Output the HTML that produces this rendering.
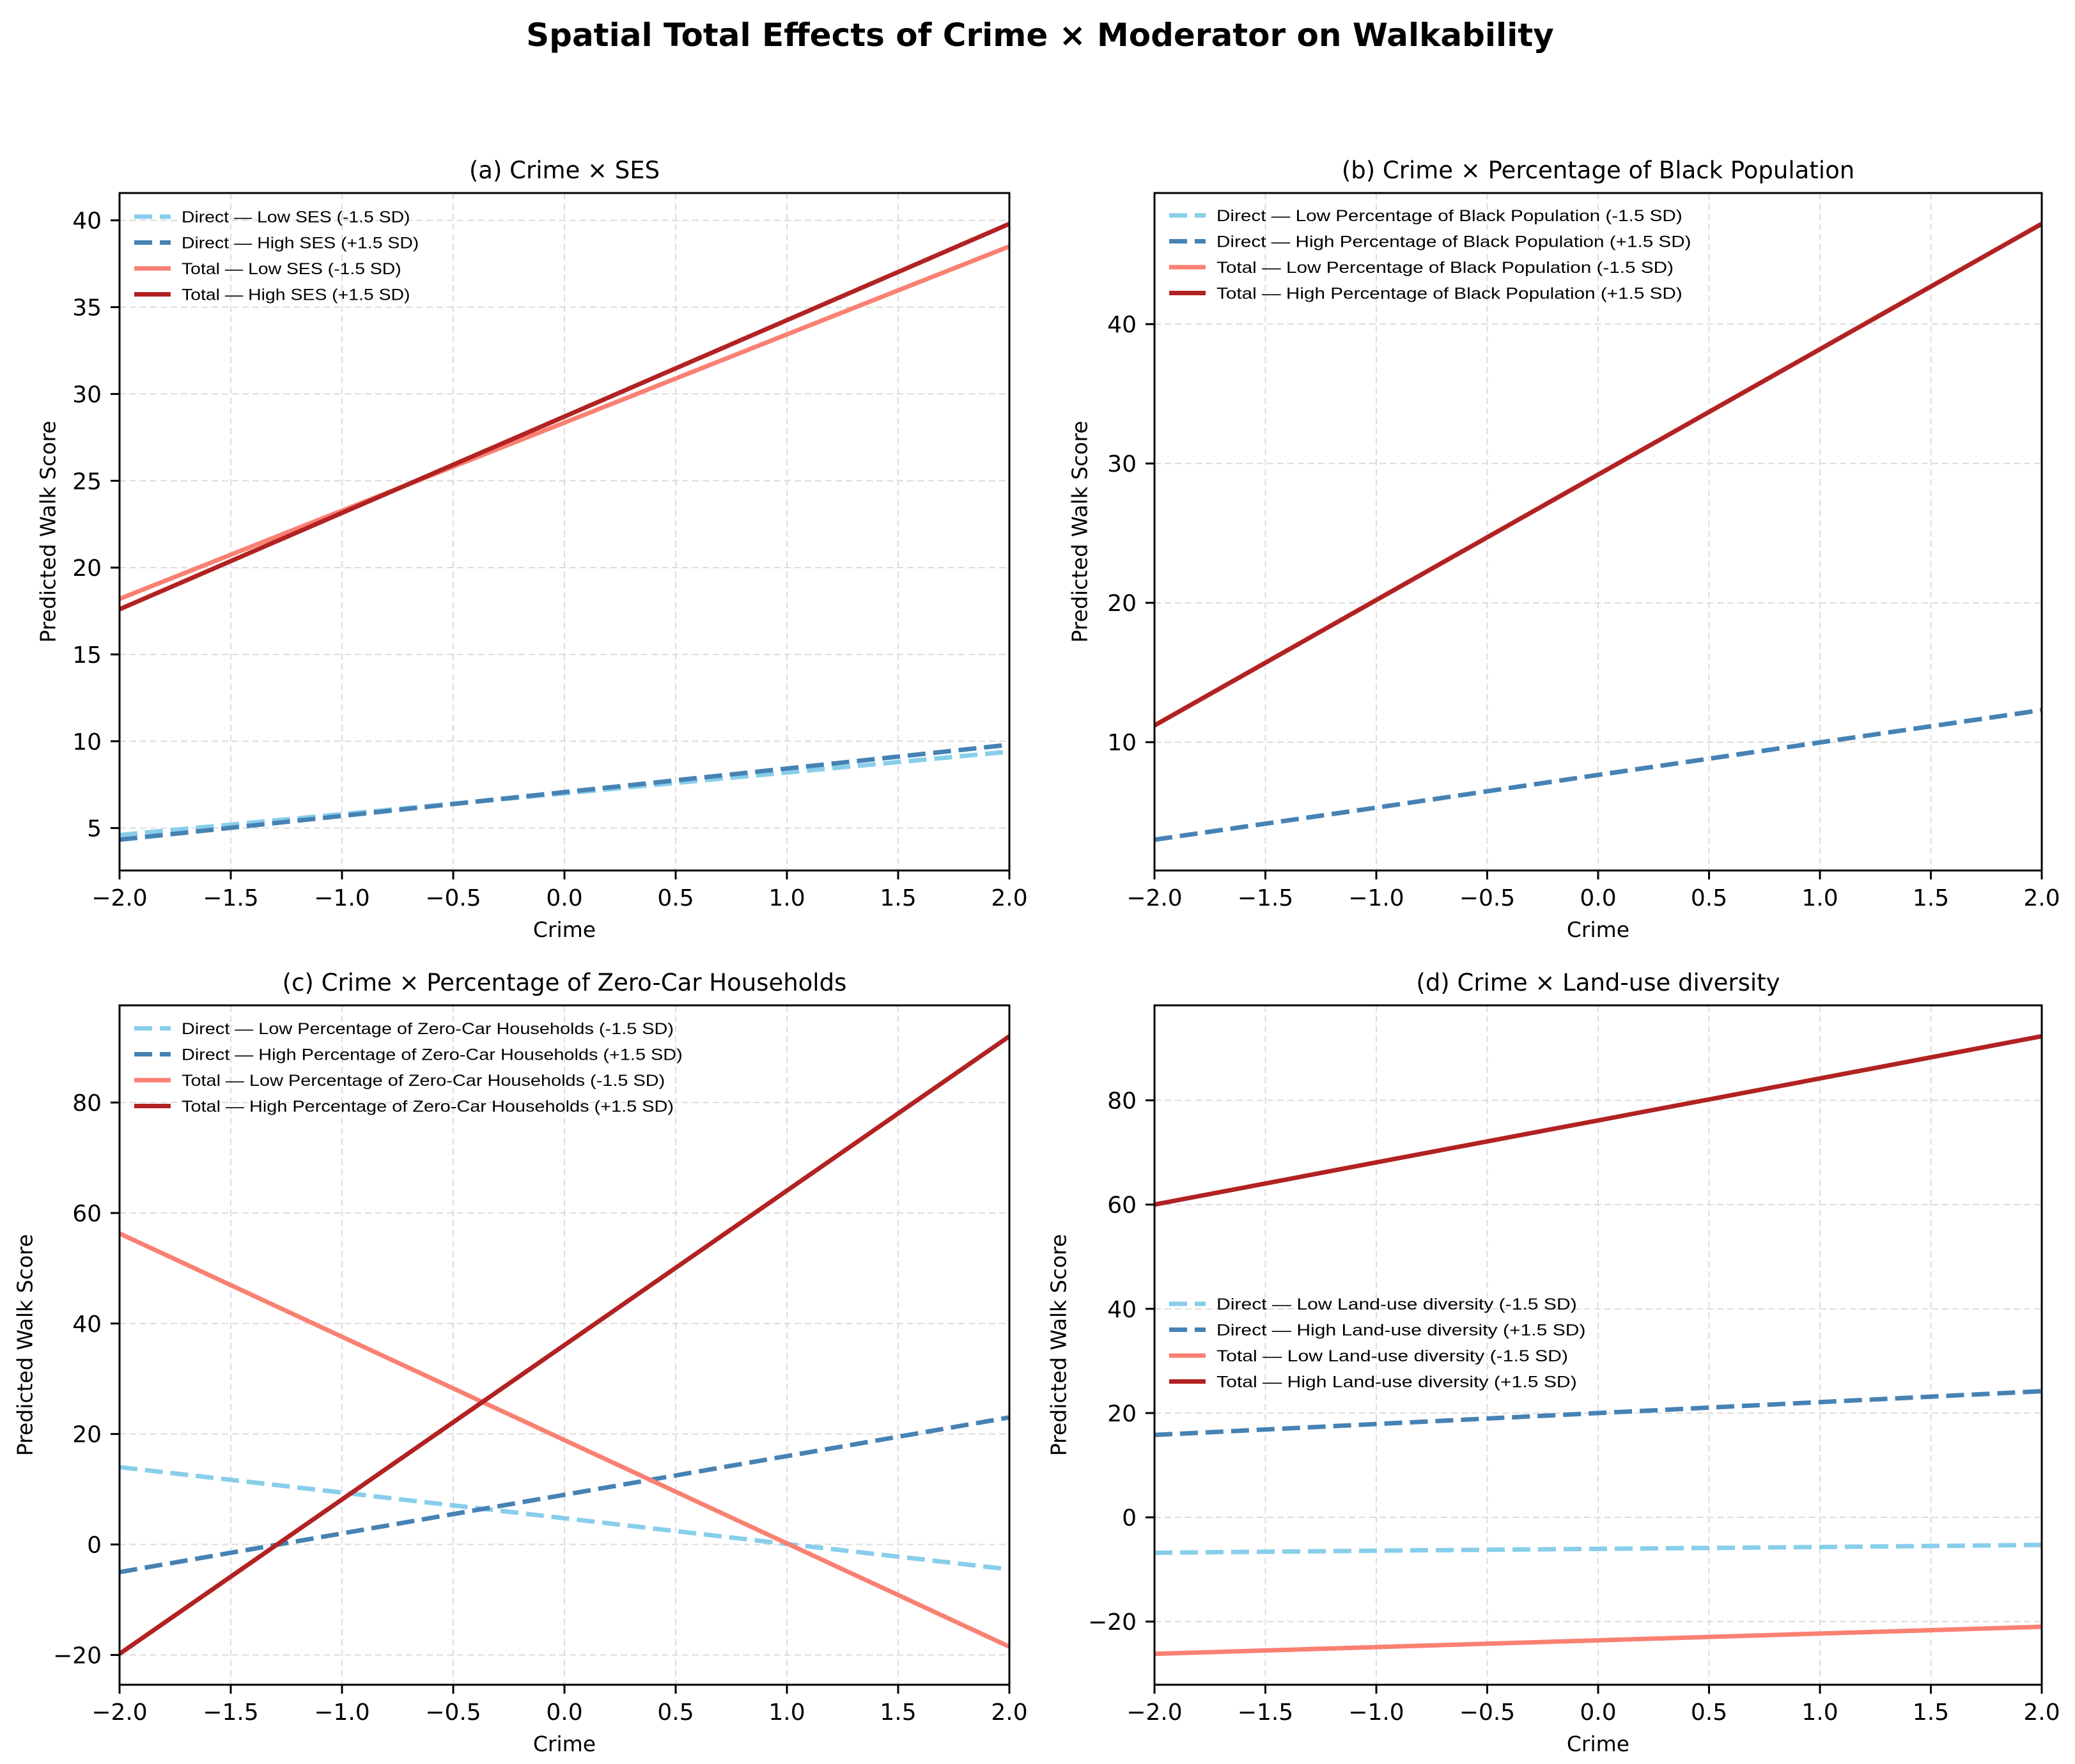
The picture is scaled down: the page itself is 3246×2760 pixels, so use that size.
<!DOCTYPE html>
<html><head><meta charset="utf-8"><style>
html,body{margin:0;padding:0;background:#fff}
svg{display:block;font-family:"DejaVu Sans","Liberation Sans",sans-serif}
</style></head><body>
<svg id="fig" width="3246" height="2760" viewBox="0 0 3246 2760" xmlns="http://www.w3.org/2000/svg">
<text x="1627" y="72" text-anchor="middle" font-size="50" font-weight="bold">Spatial Total Effects of Crime × Moderator on Walkability</text>
</svg>
<script>
const xs = [-2, -1, 0, 1, 2];
const xTicks = [-2.0, -1.5, -1.0, -0.5, 0.0, 0.5, 1.0, 1.5, 2.0];
// (a)
const aDirectLow = [4.6, 5.8, 7.0, 8.2, 9.4];
const aDirectHigh = [4.33, 5.7, 7.07, 8.43, 9.8];
const aTotalLow = [18.2, 23.28, 28.35, 33.43, 38.5];
const aTotalHigh = [17.6, 23.15, 28.7, 34.25, 39.8];
const aYTicks = [5, 10, 15, 20, 25, 30, 35, 40];
// (b)
const bDirectLow = [3.0, 5.3, 7.65, 9.98, 12.3];
const bDirectHigh = [3.0, 5.3, 7.65, 9.98, 12.3];
const bTotalLow = [11.2, 20.2, 29.2, 38.2, 47.2];
const bTotalHigh = [11.2, 20.2, 29.2, 38.2, 47.2];
const bYTicks = [10, 20, 30, 40];
// (c)
const cDirectLow = [14, 9.4, 4.75, 0.1, -4.5];
const cDirectHigh = [-5, 2, 9, 16, 23];
const cTotalLow = [56.3, 37.6, 18.9, 0.2, -18.5];
const cTotalHigh = [-19.8, 8.15, 36.1, 64.05, 92];
const cYTicks = [-20, 0, 20, 40, 60, 80];
// (d)
const dDirectLow = [-6.8, -6.4, -6.05, -5.7, -5.3];
const dDirectHigh = [15.8, 17.9, 20, 22.1, 24.2];
const dTotalLow = [-26.2, -24.9, -23.6, -22.3, -21];
const dTotalHigh = [60, 68.1, 76.15, 84.2, 92.3];
const dYTicks = [-20, 0, 20, 40, 60, 80];

const NS = "http://www.w3.org/2000/svg";
const fig = document.getElementById('fig');
function mk(tag, attrs, parent){
  const e = document.createElementNS(NS, tag);
  for (const k in attrs) e.setAttribute(k, attrs[k]);
  (parent||fig).appendChild(e);
  return e;
}
function fmt(v){ const s = v.toFixed(1); return s.replace('-', '\u2212'); }
function fmtInt(v){ return String(v).replace('-', '\u2212'); }

const styles = [
  {color:'#87CEEB', dash:'28,12', w:7},
  {color:'#4682B4', dash:'28,12', w:7},
  {color:'#FA8072', dash:null, w:7},
  {color:'#B22222', dash:null, w:7}
];

const panels = [
  {id:'a', title:'(a) Crime × SES', mod:'SES', L:187, R:1579, T:302, B:1362, ylx:77,
   series:[aDirectLow,aDirectHigh,aTotalLow,aTotalHigh], ticks:aYTicks, legY:339},
  {id:'b', title:'(b) Crime × Percentage of Black Population', mod:'Percentage of Black Population', L:1806, R:3194, T:302, B:1362, ylx:1691,
   series:[bDirectLow,bDirectHigh,bTotalLow,bTotalHigh], ticks:bYTicks, legY:337},
  {id:'c', title:'(c) Crime × Percentage of Zero-Car Households', mod:'Percentage of Zero-Car Households', L:187, R:1579, T:1573, B:2636, ylx:41,
   series:[cDirectLow,cDirectHigh,cTotalLow,cTotalHigh], ticks:cYTicks, legY:1609},
  {id:'d', title:'(d) Crime × Land-use diversity', mod:'Land-use diversity', L:1806, R:3194, T:1573, B:2636, ylx:1658,
   series:[dDirectLow,dDirectHigh,dTotalLow,dTotalHigh], ticks:dYTicks, legY:2040}
];

panels.forEach(p => {
  const g = mk('g', {});
  
  
  let mn = Infinity, mx = -Infinity;
  p.series.forEach(s => s.forEach(v => { mn = Math.min(mn, v); mx = Math.max(mx, v); }));
  const pad = (mx - mn) * 0.05; const y0 = mn - pad, y1 = mx + pad;
  const X = v => p.L + (v + 2) / 4 * (p.R - p.L);
  const Y = v => p.B - (v - y0) / (y1 - y0) * (p.B - p.T);
  xTicks.forEach(t => {
    const l = mk('line', {x1:X(t), x2:X(t), y1:p.T, y2:p.B, stroke:'#dcdcdc', 'stroke-width':2, 'stroke-dasharray':'10,6'}, g);
    
    
  });
  p.ticks.forEach(t => {
    const l = mk('line', {x1:p.L, x2:p.R, y1:Y(t), y2:Y(t), stroke:'#dcdcdc', 'stroke-width':2, 'stroke-dasharray':'10,6'}, g);
    
    
  });
  const cp = mk('clipPath', {id:'clip-' + p.id}, g);
  mk('rect', {x:p.L, y:p.T, width:p.R - p.L, height:p.B - p.T}, cp);
  const names = ['direct-low', 'direct-high', 'total-low', 'total-high'];
  p.series.forEach((s, i) => {
    const st = styles[i];
    const pts = s.map((v, j) => X(xs[j]) + ',' + Y(v)).join(' ');
    const pl = mk('polyline', {points:pts, fill:'none', stroke:st.color, 'stroke-width':st.w, 'clip-path':'url(#clip-' + p.id + ')'}, g);
    if (st.dash) pl.setAttribute('stroke-dasharray', st.dash);
    
    
  });
  const fr = mk('rect', {x:p.L, y:p.T, width:p.R - p.L, height:p.B - p.T, fill:'none', stroke:'#000', 'stroke-width':3}, g);
  
  
  xTicks.forEach(t => {
    mk('line', {x1:X(t), x2:X(t), y1:p.B, y2:p.B + 14, stroke:'#000', 'stroke-width':3}, g);
    const tx = mk('text', {x:X(t), y:p.B + 55, 'text-anchor':'middle', 'font-size':36}, g);
    tx.textContent = fmt(t);
    
    
  });
  p.ticks.forEach(t => {
    mk('line', {x1:p.L - 14, x2:p.L, y1:Y(t), y2:Y(t), stroke:'#000', 'stroke-width':3}, g);
    const tx = mk('text', {x:p.L - 28, y:Y(t) + 13, 'text-anchor':'end', 'font-size':36}, g);
    tx.textContent = fmtInt(t);
    
    
  });
  const ti = mk('text', {x:(p.L + p.R) / 2, y:p.T - 23, 'text-anchor':'middle', 'font-size':37}, g);
  ti.textContent = p.title;
  
  
  const xl = mk('text', {x:(p.L + p.R) / 2, y:p.B + 104, 'text-anchor':'middle', 'font-size':33}, g);
  xl.textContent = 'Crime';
  
  
  const yc = (p.T + p.B) / 2;
  const yl = mk('text', {x:p.ylx, y:yc, 'text-anchor':'middle', 'font-size':33, transform:'rotate(-90 ' + p.ylx + ' ' + yc + ')', 'dominant-baseline':'middle'}, g);
  yl.textContent = 'Predicted Walk Score';
  
  
  const labels = [
    'Direct — Low ' + p.mod + ' (-1.5 SD)',
    'Direct — High ' + p.mod + ' (+1.5 SD)',
    'Total — Low ' + p.mod + ' (-1.5 SD)',
    'Total — High ' + p.mod + ' (+1.5 SD)'
  ];
  labels.forEach((lab, i) => {
    const st = styles[i];
    const ly = p.legY + i * 40.5;
    const e = mk('g', {}, g);
    
    
    const ln = mk('line', {x1:p.L + 23, x2:p.L + 80, y1:ly, y2:ly, stroke:st.color, 'stroke-width':st.w}, e);
    if (st.dash) ln.setAttribute('stroke-dasharray', st.dash);
    const tx = mk('text', {x:p.L + 97, y:ly + 9, 'font-size':25, 'font-family':'Liberation Sans, sans-serif', textLength:lab.length * 13.75, lengthAdjust:'spacingAndGlyphs'}, e);
    tx.textContent = lab;
  });
});
</script>
</body></html>
